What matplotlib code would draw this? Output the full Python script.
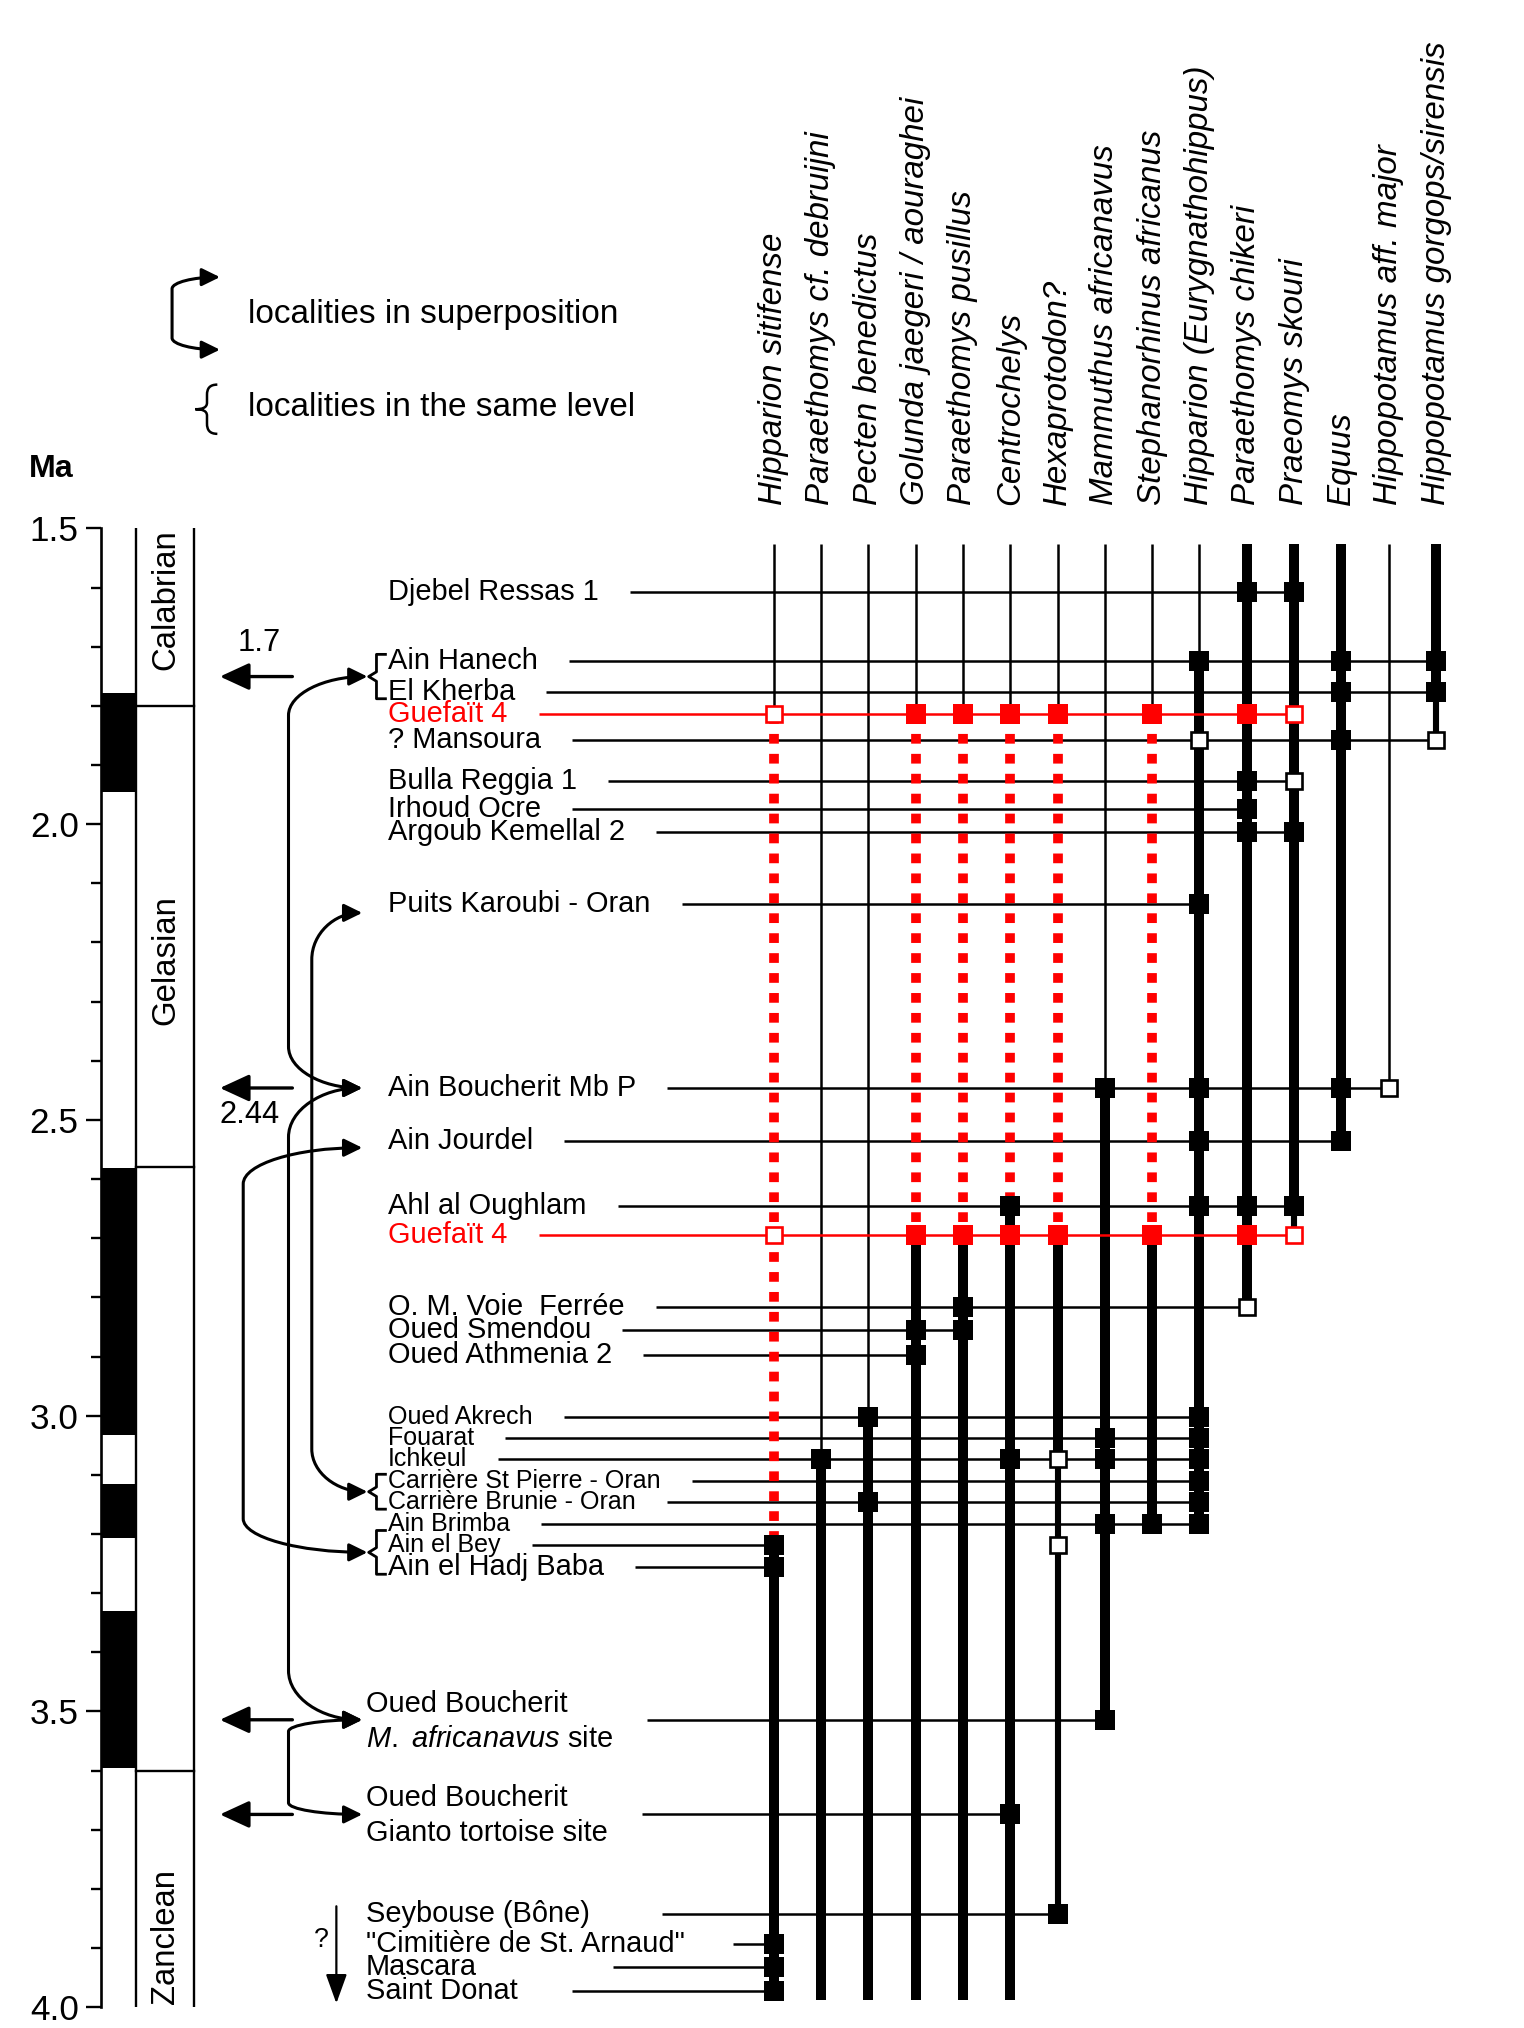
import matplotlib
matplotlib.use("Agg")
import matplotlib.pyplot as plt
from matplotlib.path import Path
from matplotlib.patches import FancyArrowPatch, PathPatch, Rectangle, ArrowStyle

plt.rcParams['font.family'] = ['Liberation Sans', 'DejaVu Sans']
plt.rcParams['mathtext.fontset'] = 'custom'
plt.rcParams['mathtext.rm'] = 'Liberation Sans'
plt.rcParams['mathtext.it'] = 'Liberation Sans:italic'

# ---------------- data ----------------
species = ['Hipparion sitifense', 'Paraethomys cf. debruijni', 'Pecten benedictus',
           'Golunda jaegeri / aouraghei', 'Paraethomys pusillus', 'Centrochelys',
           'Hexaprotodon?', 'Mammuthus africanavus', 'Stephanorhinus africanus',
           'Hipparion (Eurygnathohippus)', 'Paraethomys chikeri', 'Praeomys skouri',
           'Equus', 'Hippopotamus aff. major', 'Hippopotamus gorgops/sirensis']

loc_names = ['Djebel Ressas 1', 'Ain Hanech', 'El Kherba', 'Guefaït 4', '? Mansoura',
             'Bulla Reggia 1', 'Irhoud Ocre', 'Argoub Kemellal 2', 'Puits Karoubi - Oran',
             'Ain Boucherit Mb P', 'Ain Jourdel', 'Ahl al Oughlam', 'Guefaït 4',
             'O. M. Voie  Ferrée', 'Oued Smendou', 'Oued Athmenia 2', 'Oued Akrech',
             'Fouarat', 'Ichkeul', 'Carrière St Pierre - Oran', 'Carrière Brunie - Oran',
             'Ain Brimba', 'Ain el Bey', 'Ain el Hadj Baba',
             'Oued Boucherit\n$\\mathit{M.}$ $\\mathit{africanavus}$ site',
             'Oued Boucherit\nGianto tortoise site',
             'Seybouse (Bône)', '"Cimitière de St. Arnaud"', 'Mascara', 'Saint Donat']

loc_ages = [1.607, 1.725, 1.776, 1.813, 1.857, 1.927, 1.975, 2.014, 2.135, 2.446,
            2.535, 2.645, 2.695, 2.816, 2.855, 2.897, 3.002, 3.037, 3.074, 3.111,
            3.146, 3.183, 3.218, 3.256, 3.514, 3.674, 3.843, 3.893, 3.932, 3.972]

filled = [[10, 11], [9, 12, 14], [12, 14], [3, 4, 5, 6, 8, 10], [12], [10], [10], [10, 11],
          [9], [7, 9, 12], [9, 12], [5, 9, 10, 11], [3, 4, 5, 6, 8, 10], [4], [3, 4], [3],
          [2, 9], [7, 9], [1, 5, 7, 9], [9], [2, 9], [7, 8, 9], [0], [0], [7], [5], [6],
          [0], [0], [0]]
open_sq = [[], [], [], [0, 11], [9, 14], [11], [], [], [], [13], [], [], [0, 11], [10],
           [], [], [], [], [6], [], [], [], [6], [], [], [], [], [], [], []]

red_locs = [3, 12]
small_locs = [16, 17, 18, 19, 20, 21, 22]

range_top = 1.526
range_bot = 3.988
# species ranges: (from, to, style)
ranges = [
    [(range_top, 1.813, 'thin'), (1.813, 3.218, 'dot'), (3.218, range_bot, 'thick')],
    [(range_top, 3.074, 'thin'), (3.074, range_bot, 'thick')],
    [(range_top, 3.002, 'thin'), (3.002, range_bot, 'thick')],
    [(range_top, 1.813, 'thin'), (1.813, 2.695, 'dot'), (2.695, range_bot, 'thick')],
    [(range_top, 1.813, 'thin'), (1.813, 2.695, 'dot'), (2.695, range_bot, 'thick')],
    [(range_top, 1.813, 'thin'), (1.813, 2.645, 'dot'), (2.645, range_bot, 'thick')],
    [(range_top, 1.813, 'thin'), (1.813, 2.695, 'dot'), (2.695, 3.074, 'thick'), (3.074, 3.843, 'med')],
    [(range_top, 2.446, 'thin'), (2.446, 3.514, 'thick')],
    [(range_top, 1.813, 'thin'), (1.813, 2.695, 'dot'), (2.695, 3.183, 'thick')],
    [(range_top, 1.725, 'thin'), (1.725, 3.183, 'thick')],
    [(range_top, 2.816, 'thick')],
    [(range_top, 2.645, 'thick'), (2.645, 2.695, 'med')],
    [(range_top, 2.535, 'thick')],
    [(range_top, 2.446, 'thin')],
    [(range_top, 1.776, 'thick'), (1.776, 1.857, 'med')],
]

normal_top = [1.778, 2.581, 3.116, 3.330]
normal_bot = [1.945, 3.032, 3.207, 3.596]
stage_names = ['Calabrian', 'Gelasian', '', 'Zanclean']
stage_bounds = [1.80, 2.58, 3.60]

age_ticks = [1.5, 2.0, 2.5, 3.0, 3.5, 4.0]
age_tick_labels = ['1.5', '2.0', '2.5', '3.0', '3.5', '4.0']

# ---------------- layout helpers (reference pixel grid) ----------------
W, H = 1178.0, 1566.0
def X(xd):
    return (xd - 598.0) / 36.57
def Y(yd):
    return 1.5 + (yd - 408.0) / 456.8

RED = '#ff0000'
fig = plt.figure(figsize=(15.24, 20.28), dpi=100)
ax = fig.add_axes([78 / W, 1 - 1550 / H, 1 - 78 / W, (1550 - 408) / H])
ax.set_xlim(X(78), X(W))
ax.set_ylim(4.0, 1.5)
for s in ['top', 'right', 'bottom']:
    ax.spines[s].set_visible(False)
ax.spines['left'].set_linewidth(1.9)
ax.set_xticks([])
ax.set_yticks(age_ticks)
ax.set_yticklabels(age_tick_labels)
ax.set_yticks([1.5 + 0.1 * i for i in range(26)], minor=True)
ax.tick_params(axis='y', which='major', length=11, width=1.7, labelsize=25.3, pad=5)
ax.tick_params(axis='y', which='minor', length=7, width=1.7)
ax.patch.set_alpha(0)

ax.text(X(22), Y(362), 'Ma', fontsize=23.2, fontweight='bold', ha='left', va='center',
        clip_on=False)

# polarity column
for t, b in zip(normal_top, normal_bot):
    ax.add_patch(Rectangle((X(78), t), X(105) - X(78), b - t, color='k', lw=0, zorder=2))
# stage column
for xx in (105, 150):
    ax.plot([X(xx), X(xx)], [1.5, 4.0], color='k', lw=1.7, solid_capstyle='butt')
for b in stage_bounds:
    ax.plot([X(105), X(150)], [b, b], color='k', lw=1.7)
stage_label_y = [1.62, 2.23, 3.1, 3.88]
for nm, yy in zip(stage_names, stage_label_y):
    if nm:
        ax.text(X(128), yy, nm, rotation=90, ha='center', va='center', fontsize=23.7)

# species headers
for i, nm in enumerate(species):
    ax.text(i, Y(390), nm, rotation=90, ha='center', va='bottom', fontsize=23.9,
            style='italic', clip_on=False)

# species ranges
styles = {'thin': dict(lw=1.8, color='k'),
          'thick': dict(lw=7.2, color='k'),
          'med': dict(lw=4.4, color='k'),
          'dot': dict(lw=7.0, color=RED, linestyle=(0, (1.0, 1.05)))}
for i, segs in enumerate(ranges):
    for a, b, st in segs:
        ax.plot([i, i], [a, b], solid_capstyle='butt', dash_capstyle='butt',
                zorder=3, **styles[st])

# locality labels
text_x = {i: 300 for i in range(24)}
text_x.update({i: 283 for i in range(24, 30)})
loc_texts = []
for k, (nm, ag) in enumerate(zip(loc_names, loc_ages)):
    col = RED if k in red_locs else 'k'
    fs = 18.0 if k in small_locs else 20.9
    lines = nm.split('\n')
    if len(lines) == 1:
        t = ax.text(X(text_x[k]), ag, nm, fontsize=fs, color=col, ha='left', va='center')
        loc_texts.append([t])
    else:
        t1 = ax.text(X(text_x[k]), ag - 0.027, lines[0], fontsize=fs, color=col,
                     ha='left', va='center')
        t2 = ax.text(X(text_x[k]), ag + 0.032, lines[1], fontsize=fs, color=col,
                     ha='left', va='center')
        loc_texts.append([t1, t2])

fig.canvas.draw()
rend = fig.canvas.get_renderer()
inv = ax.transData.inverted()
k_px = 1524.0 / W
gap_disp = {26: 56, 27: 37, 28: 105, 29: 42, 24: 26, 25: 26}
line_end_override = {22: 0}
for k, ag in enumerate(loc_ages):
    x1 = max(t.get_window_extent(rend).x1 for t in loc_texts[k])
    x1 += gap_disp.get(k, 24) * k_px
    xs = inv.transform((x1, 0))[0]
    cols = filled[k] + open_sq[k]
    xe = line_end_override.get(k, max(cols))
    red = k in red_locs
    ax.plot([xs, xe], [ag, ag], color=RED if red else 'k', lw=1.8,
            solid_capstyle='butt', zorder=3.5 if red else 2)
    fc = RED if red else 'k'
    ax.plot(filled[k], [ag] * len(filled[k]), 's', ms=14.3, mfc=fc, mec=fc, mew=0,
            zorder=5, linestyle='none')
    ax.plot(open_sq[k], [ag] * len(open_sq[k]), 's', ms=11.8, mfc='white', mec=fc,
            mew=1.9, zorder=5, linestyle='none')

# ---------------- annotations ----------------
def conn_arrow(y1, y2, xv, r1, r2, tip1=280, tip2=280, lw=2.2, hl=11, hw=5.4):
    xa, xb, xv_ = X(tip1), X(tip2), X(xv)
    r1 = r1 / 456.8
    r2 = r2 / 456.8
    verts = [(xa, y1),
             (xa - 0.552 * (xa - xv_), y1), (xv_, y1 + 0.448 * r1), (xv_, y1 + r1),
             (xv_, y2 - r2),
             (xv_, y2 - 0.448 * r2), (xb - 0.552 * (xb - xv_), y2), (xb, y2)]
    codes = [Path.MOVETO, Path.CURVE4, Path.CURVE4, Path.CURVE4, Path.LINETO,
             Path.CURVE4, Path.CURVE4, Path.CURVE4]
    p = FancyArrowPatch(path=Path(verts, codes),
                        arrowstyle=ArrowStyle('<|-|>', head_length=hl, head_width=hw),
                        mutation_scale=1, lw=lw, color='k', zorder=4, clip_on=False)
    ax.add_patch(p)

def level_bracket(ya, yb, lw=2.0):
    yt, ybt = ya - 0.012, yb + 0.012
    ym = (yt + ybt) / 2
    verts = [(X(299), yt), (X(291), yt), (X(291), ym - 0.008), (X(285), ym),
             (X(291), ym + 0.008), (X(291), ybt), (X(299), ybt)]
    ax.add_patch(PathPatch(Path(verts), fill=False, lw=lw, color='k', zorder=4,
                           joinstyle='round', capstyle='butt'))
    return ym

def age_arrow(yy, label=None, above=True, lx=200):
    ax.add_patch(FancyArrowPatch((X(226), yy), (X(170), yy),
                                 arrowstyle=ArrowStyle('-|>', head_length=18, head_width=8.3),
                                 mutation_scale=1, shrinkA=0, shrinkB=0, lw=2.4,
                                 color='k', zorder=4))
    if label:
        dy = -0.056 if above else 0.046
        ax.text(X(lx), yy + dy, label, ha='center', va='center', fontsize=22.2)

ym_hk = level_bracket(loc_ages[1], loc_ages[2])
ym_car = level_bracket(loc_ages[19], loc_ages[20])
ym_bey = level_bracket(loc_ages[22] - 0.012, loc_ages[23])

age_arrow(ym_hk, '1.7', above=True, lx=200)
age_arrow(loc_ages[9], '2.44', above=False, lx=193)
age_arrow(loc_ages[24])
age_arrow(loc_ages[25])

conn_arrow(ym_hk, loc_ages[9], 223, 30, 32, tip1=284)
conn_arrow(loc_ages[9], loc_ages[24], 223, 38, 38)
conn_arrow(loc_ages[24], loc_ages[25], 223, 9, 9)
conn_arrow(loc_ages[8] + 0.015, ym_car, 241, 36, 33, tip2=284)
conn_arrow(loc_ages[10] + 0.012, ym_bey, 188, 28, 26, tip2=284)

# "?" downward arrow
ax.add_patch(FancyArrowPatch((X(260), Y(1472)), (X(260), Y(1547)),
                             arrowstyle=ArrowStyle('-|>', head_length=18, head_width=6.5),
                             mutation_scale=1, shrinkA=0, shrinkB=0, lw=1.6,
                             color='k', zorder=4))
ax.text(X(248), Y(1498), '?', ha='center', va='center', fontsize=19.2)

# legend
conn_arrow(Y(214), Y(270), 133, 9, 9, tip1=170, tip2=170, lw=2.2, hl=11, hw=5.4)
ax.text(X(192), Y(243), 'localities in superposition', fontsize=24.0, ha='left',
        va='center', clip_on=False)
bx, by, bh = 160, 316, 19
brace = [(X(168), Y(by - bh)),
         (X(162), Y(by - bh)), (X(160), Y(by - bh + 3)), (X(160), Y(by - bh + 8)),
         (X(160), Y(by - 5)),
         (X(160), Y(by - 1)), (X(156), Y(by)), (X(151), Y(by)),
         (X(156), Y(by)), (X(160), Y(by + 1)), (X(160), Y(by + 5)),
         (X(160), Y(by + bh - 8)),
         (X(160), Y(by + bh - 3)), (X(162), Y(by + bh)), (X(168), Y(by + bh))]
bcodes = [Path.MOVETO, Path.CURVE4, Path.CURVE4, Path.CURVE4, Path.LINETO,
          Path.CURVE4, Path.CURVE4, Path.CURVE4, Path.CURVE4, Path.CURVE4, Path.CURVE4,
          Path.LINETO, Path.CURVE4, Path.CURVE4, Path.CURVE4]
ax.add_patch(PathPatch(Path(brace, bcodes), fill=False, lw=1.8, color='k',
                       clip_on=False))
ax.text(X(192), Y(315), 'localities in the same level', fontsize=24.0, ha='left',
        va='center', clip_on=False)

fig.savefig('out.png', dpi=100)
